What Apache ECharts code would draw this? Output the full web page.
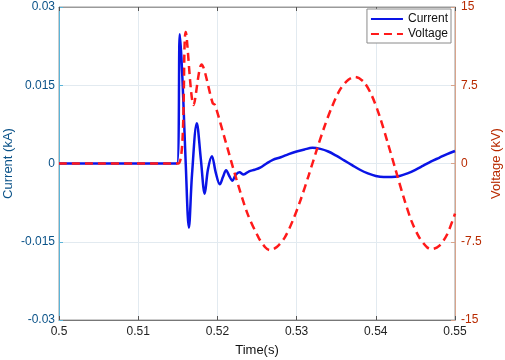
<!DOCTYPE html>
<html>
<head>
<meta charset="utf-8">
<title>Current / Voltage</title>
<script src="https://cdn.jsdelivr.net/npm/echarts@6/dist/echarts.min.js"></script>
<style>
  html, body { margin: 0; padding: 0; background: #fff; }
  #chart { width: 505px; height: 360px; }
</style>
</head>
<body>
<div id="chart"></div>
<script type="text/javascript">
// current trace (kA)
var timeCurrent = [0.5000, 0.5149, 0.51525, 0.51545, 0.5157, 0.5160, 0.5164, 0.5168, 0.5174, 0.5179,
  0.5184, 0.5188, 0.5193, 0.5198, 0.5203, 0.5207, 0.5211, 0.5215, 0.5219, 0.5223,
  0.5228, 0.5233, 0.5240, 0.5247, 0.5254, 0.5262, 0.5270, 0.5280, 0.5290, 0.5300,
  0.5310, 0.5320, 0.5330, 0.5340, 0.5350, 0.5360, 0.5370, 0.5380, 0.5390, 0.5400,
  0.5410, 0.5420, 0.5430, 0.5440, 0.5450, 0.5460, 0.5470, 0.5480, 0.5490, 0.5500];
var currentKA = [0, 0, 0.0248, 0.0205, 0.0120, 0.0000, -0.0123, -0.0020, 0.0077, 0.0010,
  -0.0058, -0.0012, 0.0014, -0.0018, -0.0040, -0.0026, -0.0013, -0.0024, -0.0033, -0.0022,
  -0.0017, -0.0021, -0.0015, -0.0012, -0.0008, 0.0000, 0.0007, 0.0012, 0.0018, 0.0023,
  0.0027, 0.0030, 0.0028, 0.0023, 0.0015, 0.0006, -0.0003, -0.0012, -0.0019, -0.0024,
  -0.0026, -0.0026, -0.0024, -0.0019, -0.0012, -0.0004, 0.0004, 0.0011, 0.0018, 0.0024];

// voltage trace (kV)
var timeVoltage = [0.5000, 0.5151, 0.5160, 0.5170, 0.5180, 0.5194, 0.5197, 0.5210, 0.5224, 0.5238,
  0.5252, 0.5260, 0.5266, 0.5275, 0.5285, 0.5295, 0.5305, 0.5315, 0.5325, 0.5335,
  0.5345, 0.5355, 0.5365, 0.5374, 0.5385, 0.5395, 0.5405, 0.5415, 0.5425, 0.5435,
  0.5445, 0.5455, 0.5465, 0.5471, 0.5480, 0.5490, 0.5500];
var voltageKV = [0, 0, 12.6, 5.6, 9.5, 5.8, 5.6, 2.2, -1.5, -4.8,
  -7.1, -8.0, -8.3, -8.0, -7.1, -5.5, -3.5, -1.2, 1.2, 3.5,
  5.5, 7.1, 8.0, 8.3, 7.8, 6.5, 4.5, 2.0, -0.6, -3.2,
  -5.5, -7.1, -8.05, -8.2, -7.9, -6.8, -4.8];

function pairUp(xs, ys){
	var out = [];
	for (var i = 0; i < xs.length; i++){
		out.push([xs[i], ys[i]]);
	}
	return out;
}

var gridColor = '#e2eaf0';
var leftColor = '#0a5288';
var rightColor = '#b82a00';

var myChart = echarts.init(document.getElementById('chart'));
var option = {
	animation: false,
	textStyle: { fontFamily: 'Liberation Sans, Arial, sans-serif' },
	grid: {
		left: 59, right: 50, top: 7, bottom: 40,
		outerBoundsMode: 'none',
		containLabel: false,
		show: true, borderColor: '#9a9a9a', borderWidth: 1
	},
	legend: {
		orient: 'vertical',
		right: 54, top: 9,
		backgroundColor: '#fff',
		borderColor: '#8a8a8a',
		borderWidth: 1,
		borderRadius: 0,
		padding: [4, 3, 3, 3],
		itemWidth: 32, itemHeight: 10, itemGap: 3,
		itemStyle: { opacity: 0 },
		textStyle: { fontSize: 12, color: '#111' },
		data: ['Current', 'Voltage']
	},
	xAxis: [
		{
			type: 'value',
			min: 0.5, max: 0.55, interval: 0.01,
			name: 'Time(s)',
			nameLocation: 'middle',
			nameGap: 24,
			nameMoveOverlap: false,
			nameTextStyle: { fontSize: 13, color: '#111' },
			axisLine: { onZero: false, lineStyle: { color: '#777' } },
			axisTick: { inside: true, length: 4, lineStyle: { color: '#555' } },
			axisLabel: {
				fontSize: 12, color: '#222', margin: 6,
				formatter: function (v) { return String(+v.toFixed(2)); }
			},
			splitLine: { show: true, lineStyle: { color: gridColor } }
		},
		{
			type: 'value', position: 'top',
			min: 0.5, max: 0.55, interval: 0.01,
			axisLine: { onZero: false, lineStyle: { color: '#9a9a9a' } },
			axisTick: { inside: true, length: 4, lineStyle: { color: '#555' } },
			axisLabel: { show: false },
			splitLine: { show: false }
		}
	],
	yAxis: [
		{
			type: 'value',
			min: -0.03, max: 0.03, interval: 0.015,
			name: 'Current (kA)',
			nameLocation: 'middle',
			nameGap: 44,
			nameMoveOverlap: false,
			nameTextStyle: { fontSize: 13, color: leftColor },
			axisLine: { show: true, onZero: false, lineStyle: { color: '#5ab4d8' } },
			axisTick: { show: true, inside: true, length: 4, lineStyle: { color: '#5ab4d8' } },
			axisLabel: { fontSize: 12, color: leftColor, margin: 4 },
			splitLine: { show: true, lineStyle: { color: gridColor } }
		},
		{
			type: 'value',
			min: -15, max: 15, interval: 7.5,
			name: 'Voltage (kV)',
			nameLocation: 'middle',
			nameGap: 35,
			nameRotate: 90,
			nameMoveOverlap: false,
			nameTextStyle: { fontSize: 13, color: rightColor },
			axisLine: { show: true, onZero: false, lineStyle: { color: '#d8a48c' } },
			axisTick: { show: true, inside: true, length: 4, lineStyle: { color: '#d8a48c' } },
			axisLabel: { fontSize: 12, color: rightColor, margin: 6 },
			splitLine: { show: false }
		}
	],
	series: [
		{
			name: 'Current',
			type: 'line',
			yAxisIndex: 0,
			symbol: 'none',
			smooth: 0.35,
			lineStyle: { color: '#0a14e6', width: 2.5 },
			itemStyle: { color: '#0a14e6' },
			data: pairUp(timeCurrent, currentKA)
		},
		{
			name: 'Voltage',
			type: 'line',
			yAxisIndex: 1,
			symbol: 'none',
			smooth: 0.3,
			lineStyle: { color: '#ff1a1a', width: 2.5, type: [8, 5] },
			itemStyle: { color: '#ff1a1a' },
			data: pairUp(timeVoltage, voltageKV)
		}
	]
};
myChart.setOption(option);
</script>
</body>
</html>
